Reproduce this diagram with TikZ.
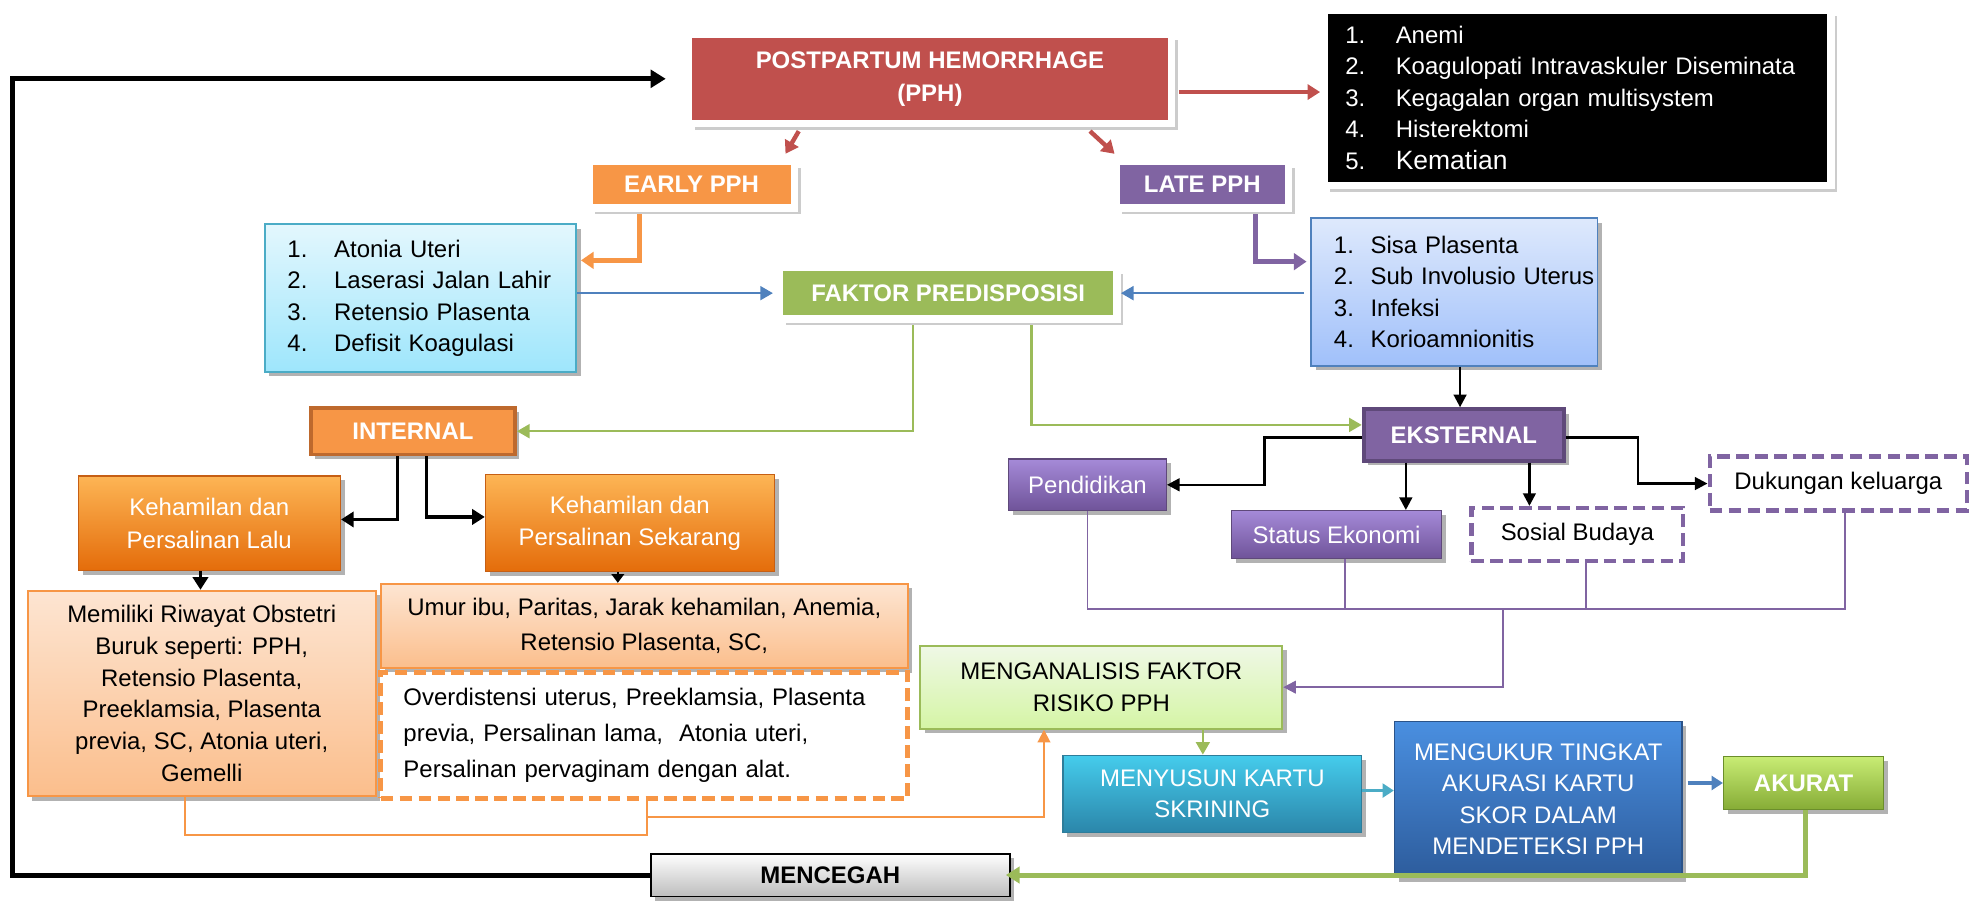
\documentclass[tikz,border=0pt]{standalone}
\usepackage{fontspec}
\setmainfont{Liberation Sans}
\usetikzlibrary{arrows.meta,shadows,calc}
\definecolor{pphred}{HTML}{C0504D}
\definecolor{orgA}{HTML}{F79646}
\definecolor{purA}{HTML}{8064A2}
\definecolor{grnA}{HTML}{9BBB59}
\definecolor{bluA}{HTML}{4F81BD}
\definecolor{aquA}{HTML}{4BACC6}
\newcommand\dgfont{\fontsize{19}{25}\selectfont}
\newcommand\dgnum[3]{\mbox{\makebox[#1][l]{#2}#3}}
\begin{document}
\begin{tikzpicture}[x=1pt,y=-1pt,
  shad/.style={drop shadow={shadow xshift=3.5pt,shadow yshift=-3.5pt,opacity=0.3,fill=black}},
  shadF/.style={drop shadow={shadow xshift=5pt,shadow yshift=-5pt,opacity=0.2,fill=black}},
  framed/.style={draw=white,line width=6pt,shadF,inner sep=0pt,text=white,
     font=\bfseries\fontsize{19}{26}\selectfont,align=center},
  listbox/.style={line width=1.5pt,shad,align=left,font=\dgfont,inner ysep=0pt,text=black},
  solidbox/.style={shad,inner sep=0pt,text=white,font=\bfseries\dgfont,align=center},
  gradbox/.style={shad,inner sep=0pt,line width=1pt,font=\dgfont,align=center},
  dashbx/.style={fill=white,line width=3.5pt,dash pattern=on 10pt off 5pt,inner sep=0pt,font=\dgfont,align=center,text=black},
  blkarr/.style={draw=black,line width=2pt,-{Triangle[length=10pt,width=10pt]}},
  blkarrB/.style={draw=black,line width=2.5pt,-{Triangle[length=10pt,width=12pt]}},
  redarr/.style={draw=pphred,line width=3.5pt,-{Triangle[length=10pt,width=12pt]}},
  orarr/.style={draw=orgA,line width=4pt,-{Triangle[length=10pt,width=13pt]}},
  purarr/.style={draw=purA,line width=4pt,-{Triangle[length=10pt,width=13pt]}},
  bluarr/.style={draw=bluA,line width=1.8pt,-{Triangle[length=10pt,width=11pt]}},
  grnarr/.style={draw=grnA,line width=1.8pt,-{Triangle[length=10pt,width=11pt]}},
  aquarr/.style={draw=aquA,line width=3pt,-{Triangle[length=9pt,width=11pt]}},
  bluarrB/.style={draw=bluA,line width=3pt,-{Triangle[length=9pt,width=11pt]}},
  grnbig/.style={draw=grnA,line width=4pt,-{Triangle[length=11pt,width=13pt]}},
  fbline/.style={draw=black,line width=4pt,-{Triangle[length=12pt,width=14pt]}},
  orline/.style={draw=orgA,line width=1.5pt},
  orarrT/.style={draw=orgA,line width=1.5pt,-{Triangle[length=10pt,width=10pt]}},
  purline/.style={draw=purA,line width=1.5pt},
  purarrT/.style={draw=purA,line width=1.5pt,-{Triangle[length=10pt,width=10pt]}}
]
\useasboundingbox (0,0) rectangle (1568,715);

% ---------- top row ----------
\node[framed,fill=pphred,minimum width=383pt,minimum height=71pt] (pph) at (737.5,62.5)
  {POSTPARTUM HEMORRHAGE\\(PPH)};
\node[framed,fill=black,minimum width=402pt,minimum height=139pt,align=left,
  text width=368pt,inner xsep=17pt,font=\dgfont] (comp) at (1251,77.5)
  {\dgnum{40pt}{1.}{Anemi}\\
   \dgnum{40pt}{2.}{Koagulopati Intravaskuler Diseminata}\\
   \dgnum{40pt}{3.}{Kegagalan organ multisystem}\\
   \dgnum{40pt}{4.}{Histerektomi}\\
   \dgnum{40pt}{5.}{\fontsize{21}{25}\selectfont Kematian}};
\node[framed,fill=orgA,minimum width=163pt,minimum height=37pt] (early) at (548.5,146.5) {EARLY PPH};
\node[framed,fill=purA,minimum width=137pt,minimum height=37pt] (late) at (953.5,146.5) {LATE PPH};
\node[framed,fill=grnA,minimum width=268pt,minimum height=41pt] (faktor) at (752,232.5) {FAKTOR PREDISPOSISI};

\node[listbox,draw=aquA,top color={rgb,255:red,227;green,247;blue,253},bottom color={rgb,255:red,158;green,230;blue,252},
  minimum width=247pt,minimum height=117pt,text width=211pt,inner xsep=18pt] (leftlist) at (333.5,236.5)
  {\dgnum{37pt}{1.}{Atonia Uteri}\\
   \dgnum{37pt}{2.}{Laserasi Jalan Lahir}\\
   \dgnum{37pt}{3.}{Retensio Plasenta}\\
   \dgnum{37pt}{4.}{Defisit Koagulasi}};
\node[listbox,draw=bluA,top color={rgb,255:red,222;green,233;blue,252},bottom color={rgb,255:red,160;green,192;blue,250},
  minimum width=227pt,minimum height=117pt,text width=191pt,inner xsep=18pt] (rightlist) at (1153.5,231.5)
  {\dgnum{29pt}{1.}{Sisa Plasenta}\\
   \dgnum{29pt}{2.}{Sub Involusio Uterus}\\
   \dgnum{29pt}{3.}{Infeksi}\\
   \dgnum{29pt}{4.}{Korioamnionitis}};

% ---------- internal / eksternal ----------
\node[solidbox,fill=orgA,draw={rgb,255:red,190;green,105;blue,45},line width=3pt,
  minimum width=162pt,minimum height=37pt] (internal) at (327.5,342) {INTERNAL};
\node[solidbox,fill=purA,draw={rgb,255:red,95;green,73;blue,122},line width=3pt,
  minimum width=159pt,minimum height=41pt] (eksternal) at (1161,345) {EKSTERNAL};

\node[gradbox,text=white,top color={rgb,255:red,253;green,181;blue,85},bottom color={rgb,255:red,228;green,108;blue,10},
  draw={rgb,255:red,198;green,95;blue,20},minimum width=208pt,minimum height=75pt,font=\fontsize{19}{26}\selectfont]
  (lalu) at (166,415) {Kehamilan dan\\Persalinan Lalu};
\node[gradbox,text=white,top color={rgb,255:red,253;green,181;blue,85},bottom color={rgb,255:red,228;green,108;blue,10},
  draw={rgb,255:red,198;green,95;blue,20},minimum width=229pt,minimum height=77pt,font=\fontsize{19}{26}\selectfont]
  (sekarang) at (499.5,415) {Kehamilan dan\\Persalinan Sekarang};

\node[gradbox,text=black,line width=1.5pt,draw=orgA,top color={rgb,255:red,253;green,229;blue,210},bottom color={rgb,255:red,251;green,190;blue,140},
  minimum width=276pt,minimum height=163pt,font=\fontsize{19}{25.2}\selectfont] (memiliki) at (160,550)
  {Memiliki Riwayat Obstetri\\Buruk seperti: PPH,\\Retensio Plasenta,\\Preeklamsia, Plasenta\\previa, SC, Atonia uteri,\\Gemelli};
\node[gradbox,text=black,line width=1.5pt,draw=orgA,top color={rgb,255:red,253;green,229;blue,210},bottom color={rgb,255:red,251;green,190;blue,140},
  minimum width=418pt,minimum height=67pt,font=\fontsize{19}{28}\selectfont] (umur) at (511,496.5)
  {Umur ibu, Paritas, Jarak kehamilan, Anemia,\\Retensio Plasenta, SC,};
\node[dashbx,draw=orgA,line width=4pt,minimum width=418pt,minimum height=100pt,align=left,
  text width=382pt,inner xsep=18pt,font=\fontsize{19}{28.5}\selectfont] (dashbox) at (511,583)
  {Overdistensi uterus, Preeklamsia, Plasenta\\previa, Persalinan lama,\ \ Atonia uteri,\\Persalinan pervaginam dengan alat.};

% ---------- eksternal children ----------
\node[gradbox,text=white,top color={rgb,255:red,165;green,138;blue,216},bottom color={rgb,255:red,111;green,83;blue,153},
  draw={rgb,255:red,95;green,73;blue,122},minimum width=125pt,minimum height=41pt] (pendidikan) at (862.5,384.5) {Pendidikan};
\node[gradbox,text=white,top color={rgb,255:red,165;green,138;blue,216},bottom color={rgb,255:red,111;green,83;blue,153},
  draw={rgb,255:red,95;green,73;blue,122},minimum width=166pt,minimum height=38pt] (status) at (1060,424) {Status Ekonomi};
\node[dashbx,draw=purA,minimum width=168pt,minimum height=42pt] (sosial) at (1251,424) {Sosial Budaya};
\node[dashbx,draw=purA,minimum width=204pt,minimum height=43pt] (dukungan) at (1458,383.5) {Dukungan keluarga};

% ---------- bottom row ----------
\node[gradbox,text=black,line width=1.5pt,draw=grnA,top color={rgb,255:red,239;green,248;blue,230},bottom color={rgb,255:red,213;green,245;blue,165},
  minimum width=287pt,minimum height=66pt,font=\fontsize{19}{25}\selectfont] (menganalisis) at (873.5,545)
  {MENGANALISIS FAKTOR\\RISIKO PPH};
\node[gradbox,text=white,top color={rgb,255:red,69;green,204;blue,236},bottom color={rgb,255:red,43;green,134;blue,170},
  draw={rgb,255:red,46;green,125;blue,154},minimum width=237pt,minimum height=61pt] (menyusun) at (961.5,629.5)
  {MENYUSUN KARTU\\SKRINING};
\node[gradbox,text=white,top color={rgb,255:red,74;green,143;blue,224},bottom color={rgb,255:red,45;green,92;blue,156},
  draw={rgb,255:red,43;green,83;blue,137},minimum width=228pt,minimum height=124pt] (mengukur) at (1220,634)
  {MENGUKUR TINGKAT\\AKURASI KARTU\\SKOR DALAM\\MENDETEKSI PPH};
\node[gradbox,text=white,font=\bfseries\dgfont,top color={rgb,255:red,200;green,236;blue,116},bottom color={rgb,255:red,134;green,172;blue,54},
  draw={rgb,255:red,107;green,142;blue,43},minimum width=127pt,minimum height=42pt] (akurat) at (1430.5,621) {AKURAT};
\node[gradbox,text=black,font=\bfseries\dgfont,line width=1.5pt,draw=black,top color=white,bottom color={rgb,255:red,189;green,189;blue,189},
  minimum width=285pt,minimum height=34pt] (mencegah) at (658.5,694) {MENCEGAH};

% ---------- connectors ----------
\coordinate (fbA) at (10,694);
\coordinate (fbB) at (10,62.5);
\draw[fbline,shorten >=15pt] (mencegah.west) -- (fbA) -- (fbB) -- (pph.west);

\draw[redarr] ($(pph.east)+(3,10.5)$) -- ($(comp.west)+(0,-4.5)$);
\draw[redarr] ($(pph.south)+(-104,3)$) -- ($(early.north east)+(-10,-3)$);
\draw[redarr] ($(pph.south)+(127,3)$) -- ($(late.north west)+(2,-3)$);

\draw[orarr] ($(early.south)+(-41,2)$) |- ($(leftlist.east)+(3,-30)$);
\draw[purarr] ($(late.south)+(42.5,2)$) |- ($(rightlist.west)+(-3,-24)$);

\draw[bluarr,shorten >=2pt] (leftlist.east |- faktor.west) -- (faktor.west);
\draw[bluarr,shorten <=5pt] (rightlist.west |- faktor.east) -- (faktor.east);

\draw[grnarr] ($(faktor.south)+(-28,2)$) |- (internal.east);
\draw[grnarr] ($(faktor.south)+(66,2)$) |- ($(eksternal.west)+(0,-8)$);

\draw[blkarr] ($(rightlist.south)+(4.5,0)$) -- ($(eksternal.north)+(-3,0)$);

\coordinate (pdA) at (1003,347);
\draw[blkarr] ($(eksternal.west)+(0,2)$) -- (pdA) |- (pendidikan.east);
\draw[blkarr] ($(eksternal.south)+(-46,0)$) -- ($(status.north)+(55,0)$);
\draw[blkarr] ($(eksternal.south)+(52,0)$) -- ($(sosial.north)+(-38,0)$);
\coordinate (dkA) at (1299,347);
\draw[blkarr] ($(eksternal.east)+(0,2)$) -- (dkA) |- (dukungan.west);

\draw[blkarrB] ($(internal.south)+(-12.5,0)$) |- ($(lalu.east)+(0,-3)$);
\draw[blkarrB] ($(internal.south)+(10.5,0)$) |- ($(sekarang.west)+(0,-5)$);
\draw[blkarrB] ($(lalu.south)+(-7,0)$) -- ($(memiliki.north)+(-1,0)$);
\draw[draw=black,line width=2pt,-{Triangle[length=7pt,width=10pt]}] ($(sekarang.south)+(-9.5,0)$) -- ($(umur.north)+(-21,0)$);

\coordinate (orA) at (147,662);
\coordinate (orB) at (513,662);
\coordinate (orC) at (513,648);
\draw[orline] ($(memiliki.south)+(-13,0)$) -- (orA) -- (orB) -- (dashbox.south -| orB);
\draw[orarrT] (orC) -| ($(menganalisis.south)+(-45.5,0)$);

\coordinate (pY) at (0,483);
\draw[purline] (pendidikan.south) -- (pendidikan.south |- pY) -- ($(dukungan.south |- pY)+(5,0)$) -- ($(dukungan.south)+(5,0)$);
\draw[purline] ($(status.south)+(7,0)$) -- ($(status.south |- pY)+(7,0)$);
\draw[purline] ($(sosial.south)+(7,0)$) -- ($(sosial.south |- pY)+(7,0)$);
\coordinate (pJ) at (1192,483);
\draw[purarrT] (pJ) |- (menganalisis.east);

\draw[grnarr] ($(menganalisis.south)+(80.5,0)$) -- ($(menyusun.north)+(-7.5,0)$);
\draw[aquarr] ($(menyusun.east)+(0,-2.5)$) -- ($(mengukur.west |- menyusun.east)+(0,-2.5)$);
\draw[bluarrB] ($(mengukur.east)+(4,-13)$) -- (akurat.west);
\draw[grnbig,shorten >=-4pt] ($(akurat.south)+(1.5,0)$) |- (mencegah.east);
\end{tikzpicture}
\end{document}
